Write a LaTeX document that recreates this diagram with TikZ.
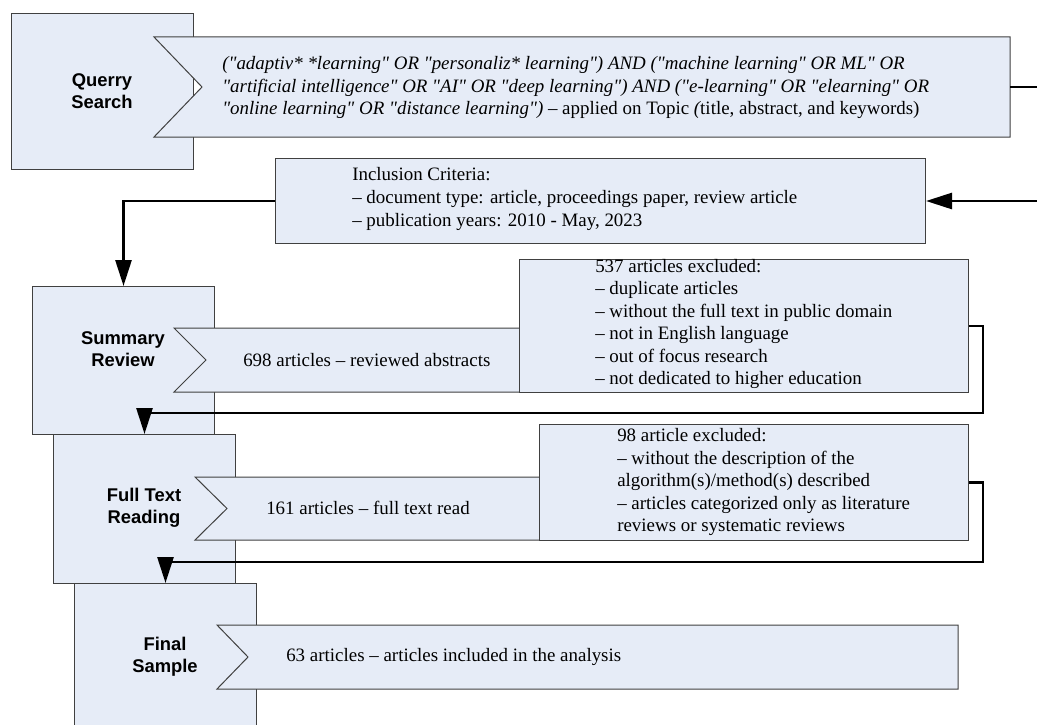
\documentclass[tikz,border=0pt]{standalone}
\usepackage{fontspec}
\setmainfont{Liberation Serif}[Ligatures=TeXOff]
\setsansfont{Liberation Sans}
\usetikzlibrary{arrows.meta}
\definecolor{stepfill}{HTML}{E6ECF7}
\definecolor{stepline}{HTML}{404040}

\begin{document}
\begin{tikzpicture}[x=0.75pt, y=-0.75pt,
    stepbox/.style={draw=stepline, fill=stepfill, line width=0.75pt, anchor=north west, inner sep=0pt},
    banner/.style={draw=stepline, fill=stepfill, line width=0.75pt},
    steplabel/.style={font=\sffamily\bfseries\fontsize{13.8}{16.5}\selectfont, align=center, inner sep=0pt},
    bodytext/.style={font=\fontsize{14.2}{16.9}\selectfont, align=left, anchor=west, inner sep=0pt},
    flow/.style={line width=2pt, -{Triangle[length=19.5pt, width=12pt]}}]

    \useasboundingbox (0,0) rectangle (1037,724);
    \clip (0,0) rectangle (1037,724);

    % Stage boxes
    \foreach \name/\x/\y/\h in {query/11/13/156, summ/32/286/148, full/53/434/149, final/74/583/149} {
        \node[stepbox, minimum width=136.5pt, minimum height=\h*0.75pt] (\name) at (\x,\y) {};
    }

    % Notched banners
    \foreach \xa/\xb/\ya/\yb/\d in {154/1010/37/137/48, 174/900/328/392/32, 195/900/477/540/32, 217/958/625/689/31} {
        \draw[banner] (\xa,\ya) -- (\xb,\ya) -- (\xb,\yb) -- (\xa,\yb) -- ({\xa+\d},{(\ya+\yb)/2}) -- cycle;
    }

    % Criteria boxes
    \node[stepbox, minimum width=487.5pt, minimum height=63.75pt] (incl) at (275,158) {};
    \node[stepbox, minimum width=336.75pt, minimum height=99.75pt] (excla) at (519,259) {};
    \node[stepbox, minimum width=321.75pt, minimum height=87pt] (exclb) at (539,424) {};

    % Stage labels
    \node[steplabel] (querylbl) at (102,91.5) {Querry\\Search};
    \node[steplabel] (summlbl) at (123,349) {Summary\\Review};
    \node[steplabel] (fulllbl) at (144,508) {Full Text\\Reading};
    \node[steplabel] (finallbl) at (165,657) {Final\\Sample};

    % Texts
    \node[bodytext] (querytxt) at (222,87.5) {\itshape ("adaptiv* *learning" OR "personaliz* learning") AND ("machine learning" OR ML" OR\\
        \itshape "artificial intelligence" OR "AI" OR "deep learning") AND ("e-learning" OR "elearning" OR\\
        \itshape "online learning" OR "distance learning") {\upshape – applied on Topic }(\upshape title, abstract, and keywords)};
    \node[bodytext] (incltxt) at (352,199) {Inclusion Criteria:\\
        – document type: article, proceedings paper, review article\\
        – publication years: 2010 - May, 2023};
    \node[bodytext] (summtxt) at (243,360) {698 articles – reviewed abstracts};
    \node[bodytext] (exclatxt) at (595,324) {537 articles excluded:\\
        – duplicate articles\\
        – without the full text in public domain\\
        – not in English language\\
        – out of focus research\\
        – not dedicated to higher education};
    \node[bodytext] (fulltxt) at (266,508) {161 articles – full text read};
    \node[bodytext] (exclbtxt) at (617,482) {98 article excluded:\\
        – without the description of the\\
        algorithm(s)/method(s) described\\
        – articles categorized only as literature\\
        reviews or systematic reviews};
    \node[bodytext] (finaltxt) at (286,657) {63 articles – articles included in the analysis};

    % Connectors
    \coordinate (qout) at (1010,87);
    \coordinate (offpage) at (1060,87);
    \coordinate (turna) at (983,413);
    \coordinate (turnb) at (983,562);
    \draw[flow] (qout) -- (offpage) |- (incl.east);
    \draw[flow] (incl.west) -| (summ.north);
    \draw[flow] (excla.east) -| (turna) -| (full.north);
    \draw[flow] (exclb.east) -| (turnb) -| (final.north);
\end{tikzpicture}
\end{document}
